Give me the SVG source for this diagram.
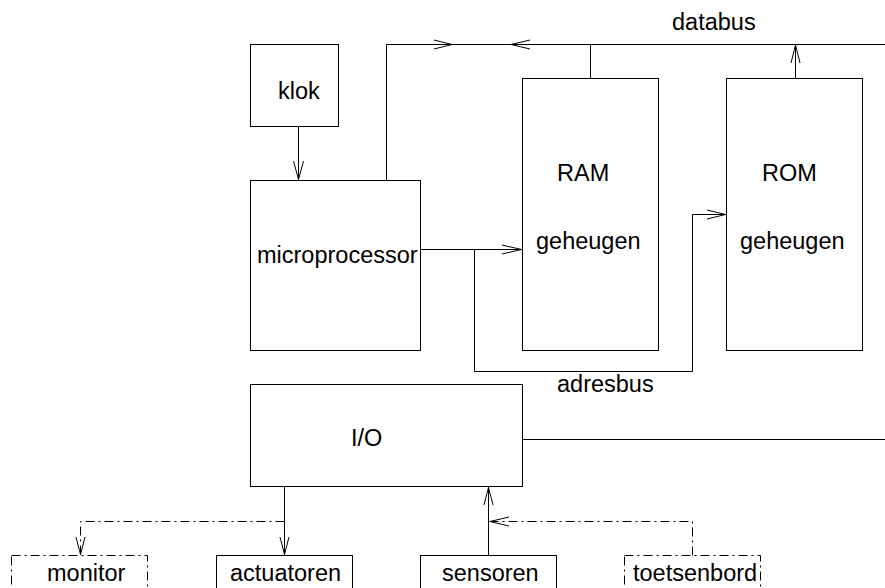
<svg xmlns="http://www.w3.org/2000/svg" width="885" height="588" viewBox="0 0 885 588">
  <style>
    .box { fill: none; stroke: #000; stroke-width: 1; }
    .dd { fill: none; stroke: #000; stroke-width: 1; stroke-dasharray: 9 4 2 4; }
    .wire { fill: none; stroke: #000; stroke-width: 1; }
    .head { fill: none; stroke: #000; stroke-width: 1; }
    text { font-family: "Liberation Sans", Arial, Helvetica, sans-serif; font-size: 23.5px; fill: #000; }
  </style>
  <rect width="885" height="588" fill="#fff"/>

  <g id="klok">
    <rect class="box" x="250.5" y="44.5" width="88" height="82"/>
    <text x="278" y="99">klok</text>
  </g>
  <g id="microprocessor">
    <rect class="box" x="250.5" y="180.5" width="170" height="170"/>
    <text x="257" y="263">microprocessor</text>
  </g>
  <g id="ram">
    <rect class="box" x="522.5" y="78.5" width="136" height="272"/>
    <text x="557" y="181">RAM</text>
    <text x="536" y="249">geheugen</text>
  </g>
  <g id="rom">
    <rect class="box" x="726.5" y="78.5" width="136" height="272"/>
    <text x="762" y="181">ROM</text>
    <text x="740" y="249">geheugen</text>
  </g>
  <g id="io">
    <rect class="box" x="250.5" y="384.5" width="272" height="102"/>
    <text x="351" y="446">I/O</text>
  </g>
  <g id="monitor">
    <rect class="dd" x="11.5" y="555.5" width="136" height="40"/>
    <text x="47" y="581">monitor</text>
  </g>
  <g id="actuatoren">
    <rect class="box" x="216.5" y="555.5" width="136" height="40"/>
    <text x="230" y="581">actuatoren</text>
  </g>
  <g id="sensoren">
    <rect class="box" x="420.5" y="555.5" width="136" height="40"/>
    <text x="442" y="581">sensoren</text>
  </g>
  <g id="toetsenbord">
    <rect class="dd" x="624.5" y="555.5" width="136" height="40"/>
    <text x="633" y="581">toetsenbord</text>
  </g>

  <g id="connectors">
    <!-- klok -> microprocessor -->
    <line class="wire" x1="298.5" y1="126.5" x2="298.5" y2="180"/>
    <polyline class="head" points="293.5,161 298.5,179.5 303.5,161"/>

    <!-- databus -->
    <polyline class="wire" points="386.5,180.5 386.5,44.5 885,44.5"/>
    <polyline class="head" points="434,40 452,44.5 434,49"/>
    <polyline class="head" points="530,40 511,44.5 530,49"/>
    <text x="672" y="30">databus</text>
    <line class="wire" x1="590.5" y1="44.5" x2="590.5" y2="78.5"/>
    <line class="wire" x1="795.5" y1="78.5" x2="795.5" y2="45"/>
    <polyline class="head" points="791,63 795.5,45 800,63"/>

    <!-- adresbus -->
    <line class="wire" x1="420.5" y1="249.5" x2="522" y2="249.5"/>
    <polyline class="head" points="502,245 521.5,249.5 502,254"/>
    <polyline class="wire" points="474.5,249.5 474.5,371.5 692.5,371.5 692.5,214.5 726,214.5"/>
    <polyline class="head" points="707,210 725.5,214.5 707,219"/>
    <text x="557" y="392">adresbus</text>

    <!-- I/O bus -->
    <line class="wire" x1="522.5" y1="439.5" x2="885" y2="439.5"/>

    <!-- I/O -> actuatoren / monitor -->
    <line class="wire" x1="284.5" y1="486.5" x2="284.5" y2="555"/>
    <polyline class="head" points="280,537 284.5,554.5 289,537"/>
    <polyline class="dd" points="284.5,521.5 80.5,521.5 80.5,555"/>
    <polyline class="head" points="76,537 80.5,554.5 85,537"/>

    <!-- sensoren / toetsenbord -> I/O -->
    <line class="wire" x1="488.5" y1="555.5" x2="488.5" y2="487"/>
    <polyline class="head" points="484,505 488.5,487.5 493,505"/>
    <polyline class="dd" points="692.5,555.5 692.5,521.5 489,521.5"/>
    <polyline class="head" points="509,517 490,521.5 509,526"/>
  </g>
</svg>
